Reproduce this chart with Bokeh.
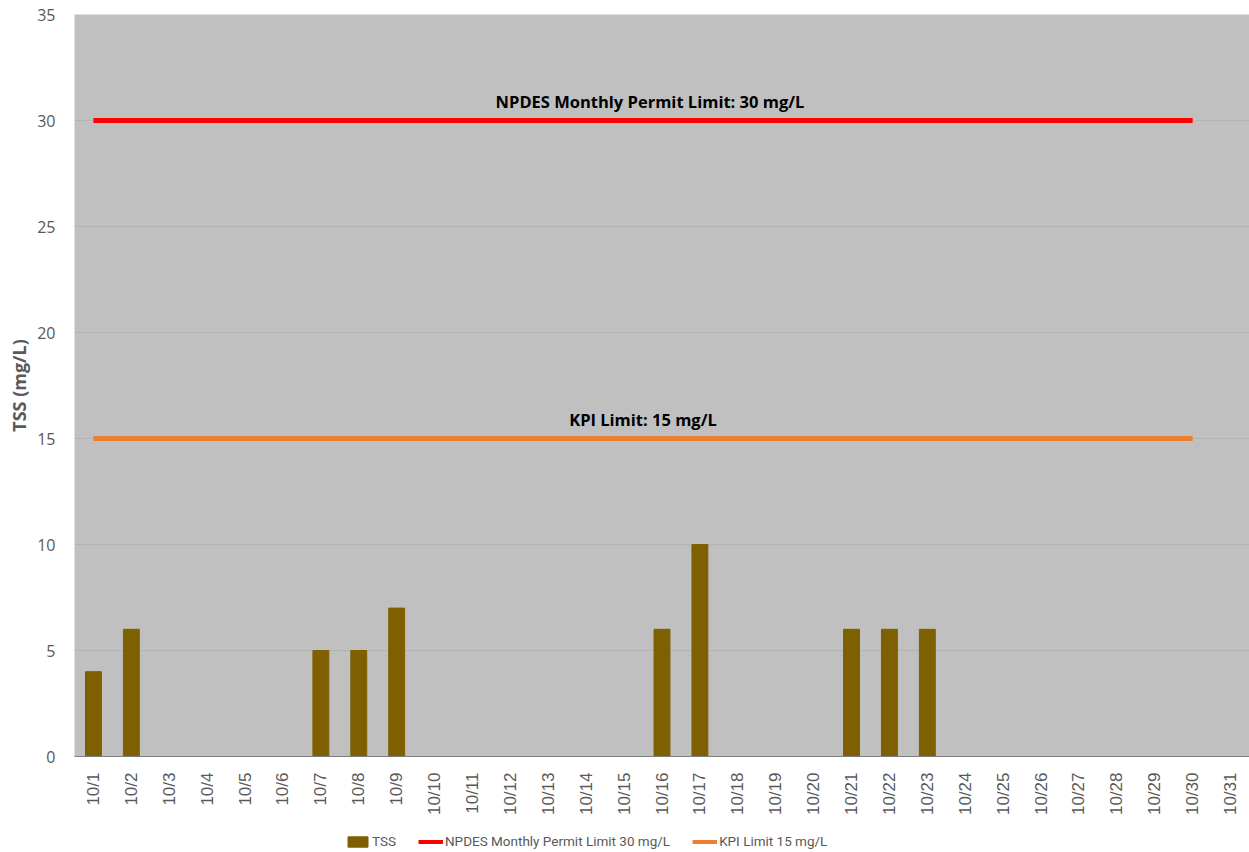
from bokeh.plotting import figure
from bokeh.layouts import column
from bokeh.models import ColumnDataSource, Legend, LegendItem, FixedTicker, Range1d
from bokeh.core.properties import value
from bokeh.embed import file_html
from bokeh.resources import INLINE

days = [f"10/{d}" for d in range(1, 32)]
tss_days = ["10/1", "10/2", "10/7", "10/8", "10/9", "10/16", "10/17", "10/21", "10/22", "10/23"]
tss_vals = [4, 6, 5, 5, 7, 6, 10, 6, 6, 6]
limit_days = days[:30]
npdes_vals = [30] * 30
kpi_vals = [15] * 30
y_ticks = [0, 5, 10, 15, 20, 25, 30, 35]

BAR = "#7f6000"
RED = "#ff0000"
ORANGE = "#ed7d31"

p = figure(x_range=days, y_range=Range1d(0, 35), width=1249, height=824,
           output_backend="svg", toolbar_location=None,
           min_border_left=74, min_border_right=0, min_border_top=14, min_border_bottom=68)
p.background_fill_color = "#c0c0c0"
p.border_fill_color = "white"
p.outline_line_color = None

src = ColumnDataSource(dict(x=tss_days, y=tss_vals))
p.vbar(x="x", top="y", width=0.42, source=src, color=BAR)
lsrc = ColumnDataSource(dict(x=limit_days, n=npdes_vals, k=kpi_vals))
p.line(x="x", y="n", source=lsrc, line_color=RED, line_width=5)
p.line(x="x", y="k", source=lsrc, line_color=ORANGE, line_width=5)

p.text(x=["10/16"], y=[30], text=["NPDES Monthly Permit Limit: 30 mg/L"], x_offset=-12, y_offset=-19,
       text_font=value("Open Sans"), text_font_style="bold", text_font_size="16.5px",
       text_align="center", text_baseline="alphabetic", text_color="black")
p.text(x=["10/16"], y=[15], text=["KPI Limit: 15 mg/L"], x_offset=-19, y_offset=-19,
       text_font=value("Open Sans"), text_font_style="bold", text_font_size="16.5px",
       text_align="center", text_baseline="alphabetic", text_color="black")

p.xgrid.grid_line_color = None
p.ygrid.grid_line_color = "#8c8c8c"
p.ygrid.grid_line_alpha = 0.25
p.yaxis.ticker = FixedTicker(ticks=y_ticks)
p.yaxis.axis_line_color = None
p.yaxis.major_tick_line_color = None
p.yaxis.major_tick_out = 0
p.yaxis.major_tick_in = 0
p.yaxis.minor_tick_line_color = None
p.yaxis.major_label_standoff = 19
p.yaxis.major_label_text_font = "Open Sans"
p.yaxis.major_label_text_font_size = "16px"
p.yaxis.major_label_text_color = "#595959"
p.yaxis.axis_label = "TSS (mg/L)"
p.yaxis.axis_label_text_font = "Open Sans"
p.yaxis.axis_label_text_font_style = "bold"
p.yaxis.axis_label_text_font_size = "18px"
p.yaxis.axis_label_text_color = "#595959"
p.yaxis.axis_label_standoff = 3

p.xaxis.axis_line_color = "#808080"
p.xaxis.major_tick_line_color = None
p.xaxis.major_label_orientation = 1.5708
p.xaxis.major_label_text_font = "Liberation Sans"
p.xaxis.major_label_text_font_size = "17px"
p.xaxis.major_label_text_color = "#595959"
p.xaxis.major_label_standoff = 10
p.x_range.range_padding = 0

# legend strip (proxy glyphs lie outside its visible range)
lg = figure(width=1249, height=28, output_backend="svg", toolbar_location=None,
            x_range=Range1d(0, 1), y_range=Range1d(0, 1),
            min_border=0)
lg.axis.visible = False
lg.grid.visible = False
lg.outline_line_color = None
lg.background_fill_color = "white"
lg.border_fill_color = "white"
proxy = ColumnDataSource(dict(x=[-10, -9], y=[-10, -10]))
lb = lg.vbar(x="x", top="y", width=0.5, source=proxy, color=BAR)
l1 = lg.line(x="x", y="y", source=proxy, line_color=RED, line_width=4)
l2 = lg.line(x="x", y="y", source=proxy, line_color=ORANGE, line_width=4)
legend = Legend(items=[LegendItem(label="TSS", renderers=[lb], index=0),
                       LegendItem(label="NPDES Monthly Permit Limit 30 mg/L", renderers=[l1]),
                       LegendItem(label="KPI Limit 15 mg/L", renderers=[l2])],
                orientation="horizontal", location=(271, 3),
                label_text_font="Roboto", label_text_font_size="13.5px", label_text_color="#595959",
                label_height=16, glyph_width=25, glyph_height=13, spacing=22, label_standoff=2,
                border_line_color=None, background_fill_alpha=0, padding=4, margin=0)
lg.add_layout(legend, "center")

layout = column(p, lg, spacing=0)
open("out.html", "w").write(file_html(layout, INLINE))
